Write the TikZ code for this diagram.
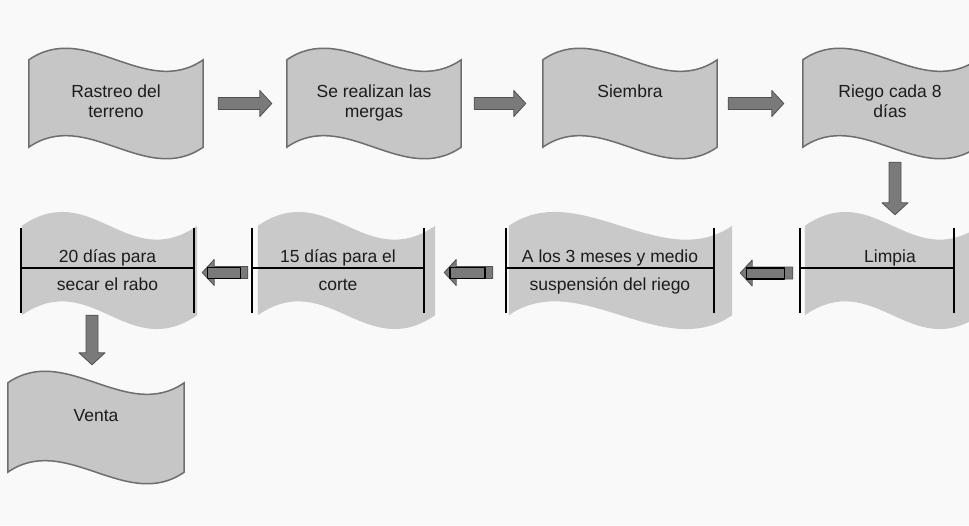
\documentclass[tikz,border=0pt]{standalone}
\usepackage{fontspec}
\setmainfont{Liberation Sans}
\usetikzlibrary{calc, backgrounds}

\definecolor{paper}{HTML}{F9F9F9}
\definecolor{tapefill}{HTML}{C6C6C6}
\definecolor{tapeline}{HTML}{6E6E6E}
\definecolor{softfill}{HTML}{C9C9C9}
\definecolor{arrowfill}{HTML}{7A7A7A}
\definecolor{arrowline}{HTML}{505050}
\definecolor{ink}{HTML}{1C1C1C}

\tikzset{
  stepbox/.style={minimum width=174, minimum height=87, inner sep=0pt, align=center, text=ink, font=\fontsize{17.5}{20}\selectfont},
  tablebox/.style={minimum height=85, inner sep=0pt, align=center, text=ink, font=\fontsize{17.5}{28}\selectfont},
  tape/.style={fill=tapefill, draw=tapeline, line width=1.5pt},
  softtape/.style={fill=softfill},
  blackrule/.style={draw=black, line width=1.6pt},
  arrowbody/.style={fill=arrowfill, draw=arrowline, line width=0.8pt},
}

% wavy box with outline
\newcommand{\wavebox}[1]{%
  \draw[tape] (#1.north west) .. controls +(58,-40) and +(-58,40) .. (#1.north east)
    -- (#1.south east) .. controls +(-58,40) and +(58,-40) .. (#1.south west) -- cycle;
}
% wavy fill with black rules
\newcommand{\softbox}[3]{%
  \fill[softtape] ($(#1.north west)+(#2,-2)$) .. controls +(70,-48) and +(-70,48) .. ($(#1.north east)+(#3,-2)$)
    -- ($(#1.south east)+(#3,2)$) .. controls +(-70,48) and +(70,-48) .. ($(#1.south west)+(#2,2)$) -- cycle;
  \draw[blackrule] (#1.north west) -- (#1.south west);
  \draw[blackrule] (#1.north east) -- (#1.south east);
  \draw[blackrule] ($(#1.west)+(0,-2.5)$) -- ($(#1.east)+(0,-2.5)$);
}
% block arrow from #1 to #2
\newcommand{\blockarr}[2]{%
  \coordinate (tail) at (#1);
  \coordinate (tip) at (#2);
  \coordinate (neck) at ($(tip)!12pt!(tail)$);
  \filldraw[arrowbody] ($(tail)!6pt!90:(tip)$) -- ($(neck)!6pt!90:(tip)$) -- ($(neck)!13pt!90:(tip)$) -- (tip)
    -- ($(neck)!13pt!-90:(tip)$) -- ($(neck)!6pt!-90:(tip)$) -- ($(tail)!6pt!-90:(tip)$) -- cycle;
}
\newcommand{\arrbar}{%
  \coordinate (bara) at ($(tip)!0.12!(tail)$);
  \coordinate (barb) at ($(tip)!0.84!(tail)$);
  \draw[black, line width=1.3pt] ($(bara)+(0,-5)$) rectangle ($(barb)+(0,6)$);
}

\begin{document}
\begin{tikzpicture}[line cap=round,line join=round,x=1pt,y=-1pt]
\useasboundingbox (0,0) rectangle (969,525);

\node[stepbox] (rastreo) at (116,103.5) {\strut Rastreo del\\\strut terreno};
\node[stepbox] (mergas) at (374,103.5) {\strut Se realizan las\\\strut mergas};
\node[stepbox] (siembra) at (630,103.5) {\strut Siembra\\\strut};
\node[stepbox] (riego) at (890,103.5) {\strut Riego cada 8\\\strut días};

\node[tablebox, minimum width=154] (limpia) at (877,270.5) {\strut\hspace*{26pt}Limpia\\\strut};
\node[tablebox, minimum width=208] (meses) at (610,270.5) {\strut A los 3 meses y medio\\\strut suspensión del riego};
\node[tablebox, minimum width=172] (corte) at (338,270.5) {\strut 15 días para el\\\strut corte};
\node[tablebox, minimum width=173] (rabo) at (107.5,270.5) {\strut 20 días para\\\strut secar el rabo};

\node[stepbox, minimum width=176, minimum height=89] (venta) at (96,427.5) {\strut Venta\\\strut};

\begin{scope}[on background layer]
\clip (0,0) rectangle (969,525);
\fill[paper] (0,0) rectangle (969,525);
\wavebox{rastreo}
\wavebox{mergas}
\wavebox{siembra}
\wavebox{riego}
\softbox{limpia}{5}{26}
\softbox{meses}{3}{18}
\softbox{corte}{6}{11}
\softbox{rabo}{1}{3}
\wavebox{venta}
\end{scope}

\blockarr{$(rastreo.east)+(15,0)$}{$(mergas.west)+(-15,0)$}
\blockarr{$(mergas.east)+(13,0)$}{$(siembra.west)+(-17,0)$}
\blockarr{$(siembra.east)+(11,0)$}{$(riego.west)+(-19,0)$}
\blockarr{$(riego.south)+(5,15)$}{$(riego.south |- limpia.north)+(5,-13)$}

\blockarr{$(limpia.west)+(-7,2.5)$}{$(meses.east)+(26,2.5)$}
\arrbar
\blockarr{$(meses.west)+(-13,2)$}{$(corte.east)+(20,2)$}
\arrbar
\blockarr{$(corte.west)+(-4,2)$}{$(rabo.east)+(8,2)$}
\arrbar
\blockarr{$(rabo.south)+(-15.5,2)$}{$(rabo.south |- venta.north)+(-15.5,-18)$}
\end{tikzpicture}
\end{document}
